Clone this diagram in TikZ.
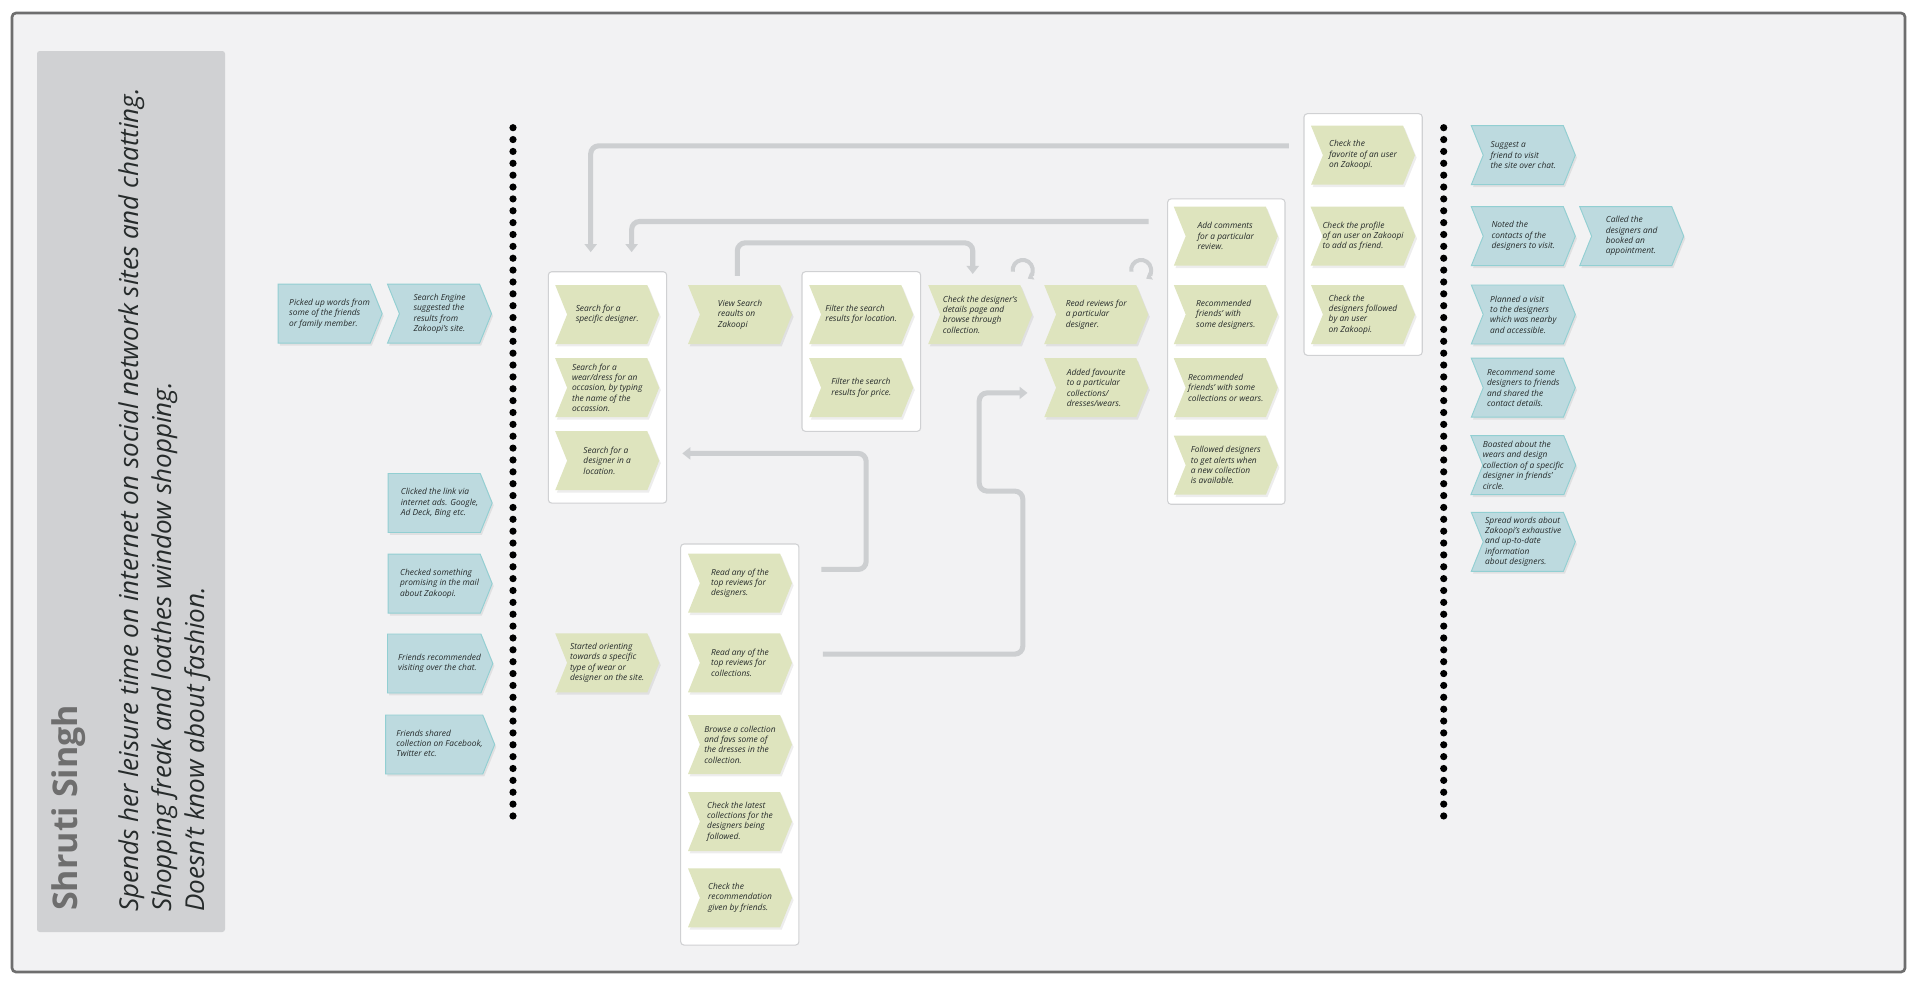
\documentclass[tikz,border=0pt]{standalone}
\usepackage{fontspec}
\setmainfont{Open Sans}
\usetikzlibrary{arrows, arrows.meta, positioning, calc, shapes.symbols, shadows, backgrounds}
\definecolor{pagegrey}{HTML}{F2F2F3}
\definecolor{framegrey}{HTML}{6E6E6E}
\definecolor{sidegrey}{HTML}{D0D1D3}
\definecolor{linegrey}{HTML}{CDCFD1}
\definecolor{tealfill}{HTML}{BDDADF}
\definecolor{tealedge}{HTML}{92CFD2}
\definecolor{olivefill}{HTML}{DEE4BE}
\definecolor{inkgrey}{HTML}{262B2B}
\newcommand\padlines[1]{\begin{tabular}{@{\hspace{8pt}}l@{}}#1\end{tabular}}
\tikzstyle{stepshape} = [signal, signal to=east, signal pointer angle=136, inner sep=0pt, minimum width=78pt, minimum height=44.25pt, text=inkgrey, align=left, font=\fontsize{6.3}{7.8}\selectfont\itshape, drop shadow={shadow xshift=1.2pt, shadow yshift=-1.8pt, opacity=0.07, fill=black}]
\tikzstyle{bluestep} = [stepshape, fill=tealfill, draw=tealedge, line width=0.7pt]
\tikzstyle{bluenotch} = [bluestep, signal from=west]
\tikzstyle{greenstep} = [stepshape, signal from=west, fill=olivefill]
\tikzstyle{panel} = [draw=sidegrey, fill=white, line width=0.8pt, rounded corners=2.5pt]
\tikzstyle{flow} = [draw=linegrey, line width=3.8pt, rounded corners=6pt]
\tikzstyle{flowtip} = [-{Triangle[length=6pt, width=9pt]}]
\tikzstyle{loopflow} = [draw=linegrey, line width=3pt, -{Triangle[length=4pt, width=6pt]}]
\tikzstyle{dotline} = [line width=5.4pt, line cap=round, dash pattern=on 0pt off 8.9pt]

\begin{document}
\begin{tikzpicture}[x=0.75pt, y=-0.75pt]

\useasboundingbox (0, 0) rectangle (1920, 986);
\fill [white] (0, 0) rectangle (1920, 986);
\draw [draw=framegrey, fill=pagegrey, line width=2pt, rounded corners=3pt] (12, 13) rectangle (1905, 972);
\fill [sidegrey, rounded corners=2pt] (37, 51) rectangle (225, 932);

\node (persona) [rotate=90, anchor=base west, inner sep=0pt, text=framegrey, font=\fontsize{25.5}{28}\selectfont\bfseries] at (77, 911) {Shruti Singh};
\node (about) [rotate=90, anchor=north west, inner sep=0pt, align=left, text=inkgrey, font=\fontsize{19.5}{24.75}\selectfont\itshape] at (118, 912) {Spends her leisure time on internet on social network sites and chatting.\\Shopping freak and loathes window shopping.\\Doesn't know about fashion.};

\draw [dotline] (513, 127.7) -- (513, 817);
\draw [dotline] (1443.7, 127.7) -- (1443.7, 817);

\node (searchPanel) [panel, minimum width=88.8pt, minimum height=173.5pt] at (607.5, 387.4) {};
\node (filterPanel) [panel, minimum width=89pt, minimum height=119.7pt] at (861.3, 351.5) {};
\node (readPanel) [panel, minimum width=88.7pt, minimum height=300.8pt] at (739.8, 744.5) {};
\node (commentPanel) [panel, minimum width=88pt, minimum height=229pt] at (1226.3, 351.6) {};
\node (checkPanel) [panel, minimum width=88.7pt, minimum height=181.2pt] at (1363.1, 234.5) {};

\node (picked) [bluestep] at (324.2, 313.7) {\padlines{Picked up words from\\some of the friends\\or family member.}};
\node (engine) [bluenotch] at (439.5, 313.7) {Search Engine\\suggested the\\results from\\Zakoopi's site.};
\node (clicked) [bluestep] at (434.2, 503) {\padlines{Clicked the link via\\internet ads. Google,\\Ad Deck, Bing etc.}};
\node (mailed) [bluestep] at (434.2, 583.7) {\padlines{Checked something\\promising in the mail\\about Zakoopi.}};
\node (chat) [bluestep] at (434.2, 663.5) {\padlines{Friends recommended\\visiting over the chat.}};
\node (shared) [bluestep] at (434.2, 744.5) {\padlines{Friends shared\\collection on Facebook,\\Twitter etc.}};

\node (specific) [greenstep] at (607.2, 314.5) {Search for a\\specific designer.};
\node (occasion) [greenstep] at (607.2, 387.7) {Search for a\\wear/dress for an\\occasion, by typing\\the name of the\\occassion.};
\node (located) [greenstep] at (607.2, 460.7) {Search for a\\designer in a\\location.};
\node (view) [greenstep] at (740, 314.5) {View Search\\reaults on\\Zakoopi};
\node (byplace) [greenstep] at (861.2, 314.5) {Filter the search\\results for location.};
\node (byprice) [greenstep] at (861.2, 387.7) {Filter the search\\results for price.};
\node (detail) [greenstep] at (980.2, 314.5) {Check the designer's\\details page and\\browse through\\collection.};
\node (reviews) [greenstep] at (1096.2, 314.5) {Read reviews for\\a particular\\designer.};
\node (added) [greenstep] at (1096.2, 387.7) {Added favourite\\to a particular\\collections/\\dresses/wears.};
\node (comments) [greenstep] at (1225.8, 236.2) {Add comments\\for a particular\\review.};
\node (fdesign) [greenstep] at (1225.8, 314.5) {Recommended\\friends' with\\some designers.};
\node (fwear) [greenstep] at (1225.8, 387.7) {Recommended\\friends' with some\\collections or wears.};
\node (alerts) [greenstep] at (1225.8, 465.2) {Followed designers\\to get alerts when\\a new collection\\is available.};
\node (favorite) [greenstep] at (1363, 155.2) {Check the\\favorite of an user\\on Zakoopi.};
\node (profile) [greenstep] at (1363, 236.2) {Check the profile\\of an user on Zakoopi\\to add as friend.};
\node (followed) [greenstep] at (1363, 314.5) {Check the\\designers followed\\by an user\\on Zakoopi.};
\node (orient) [greenstep] at (607.2, 662.8) {Started orienting\\towards a specific\\type of wear or\\designer on the site.};
\node (topdesign) [greenstep] at (740, 583.2) {Read any of the\\top reviews for\\designers.};
\node (topcollect) [greenstep] at (740, 662.8) {Read any of the\\top reviews for\\collections.};
\node (browse) [greenstep] at (740, 744.5) {Browse a collection\\and favs some of\\the dresses in the\\collection.};
\node (latest) [greenstep] at (740, 821.5) {Check the latest\\collections for the\\designers being\\followed.};
\node (recommend) [greenstep] at (740, 897.8) {Check the\\recommendation\\given by friends.};

\node (suggest) [bluenotch] at (1523.3, 155.2) {Suggest a\\friend to visit\\the site over chat.};
\node (noted) [bluenotch] at (1523.3, 236.2) {Noted the\\contacts of the\\designers to visit.};
\node (called) [bluenotch] at (1631.7, 236.2) {Called the\\designers and\\booked an\\appointment.};
\node (planned) [bluenotch] at (1523.3, 314.5) {Planned a visit\\to the designers\\which was nearby\\and accessible.};
\node (shareit) [bluenotch] at (1523.3, 387.7) {Recommend some\\designers to friends\\and shared the\\contact details.};
\node (boasted) [bluenotch] at (1523.3, 465.2) {Boasted about the\\wears and design\\collection of a specific\\designer in friends'\\circle.};
\node (spread) [bluenotch] at (1523.3, 541.8) {Spread words about\\Zakoopi's exhaustive\\and up-to-date\\information\\about designers.};

\draw [flow, flowtip] ([shift={(-11pt, -24.5pt)}]checkPanel.north west) -| ([shift={(-12.6pt, 14.3pt)}]searchPanel.north);
\draw [flow, flowtip] ([shift={(-13.8pt, -17.3pt)}]commentPanel.north west) -| ([shift={(18.1pt, 14.3pt)}]searchPanel.north);
\draw [flow, flowtip] ([shift={(-2pt, 29pt)}]view.center) -- ++(0, -33) -| ([shift={(-5.6pt, 30.4pt)}]detail.center);
\draw [flow, flowtip] ([shift={(16.5pt, -19.5pt)}]readPanel.north east) -- ++(44.7, 0) |- ([shift={(11.3pt, -49.5pt)}]searchPanel.east);
\draw [flow, flowtip] ([shift={(17.5pt, -83pt)}]readPanel.north east) -- ++(200, 0) -- ++(0, -163) -- ++(-43.6, 0) |- ([shift={(-51.5pt, -3.9pt)}]added.center);

\draw [loopflow] ([shift={(24.5pt, 32.1pt)}]detail.center) arc (190:-60:7.5pt);
\draw [loopflow] ([shift={(26.3pt, 32.1pt)}]reviews.center) arc (190:-60:7.5pt);

\end{tikzpicture}
\end{document}
